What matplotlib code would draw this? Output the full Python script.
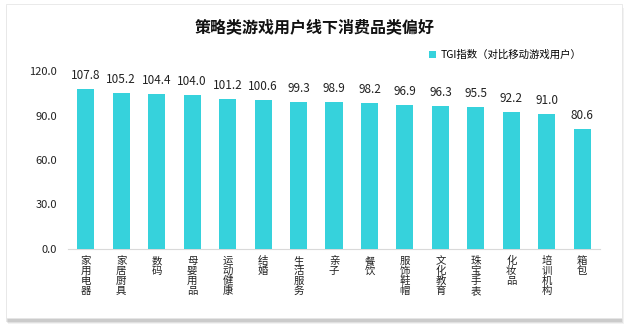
import matplotlib
matplotlib.use("Agg")
import matplotlib.pyplot as plt
from matplotlib.patches import Rectangle, Patch

plt.rcParams['font.family'] = ['Noto Sans CJK SC', 'DejaVu Sans']

categories = ["家用电器", "家居厨具", "数码", "母婴用品", "运动健康", "结婚", "生活服务",
              "亲子", "餐饮", "服饰鞋帽", "文化教育", "珠宝手表", "化妆品", "培训机构", "箱包"]
values = [107.8, 105.2, 104.4, 104.0, 101.2, 100.6, 99.3, 98.9, 98.2, 96.9, 96.3, 95.5, 92.2, 91.0, 80.6]
yticks = [0, 30, 60, 90, 120]
title = "策略类游戏用户线下消费品类偏好"
legend_label = "TGI指数（对比移动游戏用户）"

W, H = 630, 331
fig = plt.figure(figsize=(W/100, H/100), dpi=100)
fig.patch.set_facecolor("white")

# card shadow and card
for i, a in enumerate([0.05, 0.07, 0.09]):
    off = 3 - i
    fig.patches.append(Rectangle(((6 + off - 1) / W, 1 - (321 + off) / H), (616) / W, (316) / H,
                                 transform=fig.transFigure, facecolor="black", alpha=a,
                                 edgecolor="none", zorder=0))
fig.patches.append(Rectangle((6 / W, 1 - 318 / H), 616 / W, 314 / H, transform=fig.transFigure,
                             facecolor="white", edgecolor="#e6e6e6", linewidth=0.6, zorder=1))

color = "#36D2DC"
ax = fig.add_axes([68 / W, 1 - 249 / H, 532 / W, 178 / H])
ax.set_zorder(2)
ax.patch.set_alpha(0)
x = list(range(len(categories)))
bars = ax.bar(x, values, width=0.48, color=color, zorder=3)
for xi, v in zip(x, values):
    ax.annotate(f"{v:.1f}", (xi, v), xytext=(0, 9.8), textcoords="offset points",
                ha="center", va="center", fontsize=8.5, color="#222222")
ax.set_xlim(-0.5, len(categories) - 0.5)
ax.set_ylim(0, 120)
ax.set_yticks(yticks)
ax.set_yticklabels([f"{t:.1f}" for t in yticks], fontsize=8, color="#222222")
ax.set_xticks(x)
ax.set_xticklabels(["\n".join(c) for c in categories], fontsize=7.5, color="#222222",
                   va="top", linespacing=1.0)
ax.tick_params(axis="both", length=0)
ax.tick_params(axis="y", pad=8)
ax.tick_params(axis="x", pad=5)
for s in ["top", "right", "left"]:
    ax.spines[s].set_visible(False)
ax.spines["bottom"].set_color("#d9d9d9")
ax.spines["bottom"].set_linewidth(0.8)

fig.text(0.5, 1 - 27 / H, title, ha="center", va="center", fontsize=11.5, fontweight="bold",
         color="#111111", zorder=5)

leg = fig.legend(handles=[Patch(facecolor=color, label=legend_label)],
                 loc="center left", bbox_to_anchor=(429 / W, 1 - 55 / H), frameon=False,
                 fontsize=7.5, handlelength=0.7, handleheight=0.7, handletextpad=0.4,
                 borderaxespad=0, borderpad=0)
leg.set_zorder(5)

fig.savefig("out.png", dpi=100, facecolor="white")
